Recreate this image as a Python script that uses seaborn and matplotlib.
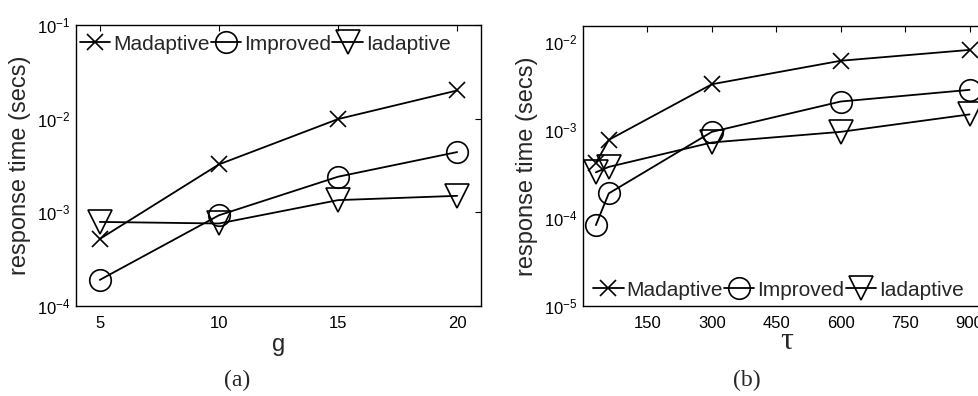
import matplotlib
matplotlib.use("Agg")
import matplotlib.pyplot as plt
import seaborn as sns
import pandas as pd
from matplotlib.lines import Line2D

# ---- data ---------------------------------------------------------------
series = ["Madaptive", "Improved", "Iadaptive"]

g_values = [5, 10, 15, 20]
g_madaptive = [5.2e-4, 3.25e-3, 9.9e-3, 2.0e-2]
g_improved = [1.9e-4, 9.3e-4, 2.4e-3, 4.4e-3]
g_iadaptive = [7.9e-4, 7.6e-4, 1.35e-3, 1.5e-3]

tau_values = [30, 60, 300, 600, 900]
tau_madaptive = [4.2e-4, 7.7e-4, 3.3e-3, 6.1e-3, 8.1e-3]
tau_improved = [8.3e-5, 1.9e-4, 9.5e-4, 2.1e-3, 2.85e-3]
tau_iadaptive = [3.3e-4, 3.8e-4, 7.2e-4, 9.5e-4, 1.5e-3]

g_ticks = [5, 10, 15, 20]
tau_ticks = [150, 300, 450, 600, 750, 900]

# ---- style --------------------------------------------------------------
sns.set_style("white")
plt.rcParams["font.family"] = ["Liberation Sans", "DejaVu Sans"]
plt.rcParams["mathtext.fontset"] = "custom"
plt.rcParams["mathtext.rm"] = "Liberation Sans"
plt.rcParams["mathtext.it"] = "Liberation Sans:italic"
plt.rcParams["mathtext.bf"] = "Liberation Sans:bold"

markers = {"Madaptive": "x", "Improved": "o", "Iadaptive": "v"}
msizes = {"Madaptive": 12, "Improved": 15.5, "Iadaptive": 17}


def long_frame(x, a, b, c):
    return pd.DataFrame({
        "x": list(x) * 3,
        "y": list(a) + list(b) + list(c),
        "method": [s for s in series for _ in x],
    })


df_g = long_frame(g_values, g_madaptive, g_improved, g_iadaptive)
df_tau = long_frame(tau_values, tau_madaptive, tau_improved, tau_iadaptive)

fig = plt.figure(figsize=(9.79, 3.96), dpi=100)
ax_a = fig.add_axes([76 / 979, 90 / 396, 405 / 979, 281 / 396])
ax_b = fig.add_axes([583 / 979, 90 / 396, 408 / 979, 280 / 396])


def draw(ax, df):
    for name in series:
        sub = df[df["method"] == name]
        sns.lineplot(data=sub, x="x", y="y", ax=ax, color="black",
                     marker=markers[name], markersize=msizes[name],
                     markerfacecolor="none", markeredgecolor="black",
                     markeredgewidth=1.2, linewidth=1.3, legend=False)
    ax.set_yscale("log")
    ax.minorticks_off()
    ax.tick_params(direction="in", length=4, width=0.8, top=True, right=True,
                   labelsize=12, colors="black", pad=7)
    ax.tick_params(axis="y", pad=4)
    for sp in ax.spines.values():
        sp.set_color("black")
        sp.set_linewidth(1.0)
    ax.set_ylabel("response time (secs)", fontsize=17, labelpad=4)


draw(ax_a, df_g)
ax_a.set_xlim(4, 21)
ax_a.set_ylim(1e-4, 1e-1)
ax_a.set_xticks(g_ticks)
ax_a.set_yticks([1e-4, 1e-3, 1e-2, 1e-1])
ax_a.minorticks_off()
ax_a.set_xlabel("g", fontsize=17, labelpad=2)

draw(ax_b, df_tau)
ax_b.set_xlim(0, 950)
ax_b.set_ylim(1e-5, 10 ** -1.82)
ax_b.set_xticks(tau_ticks)
ax_b.set_yticks([1e-5, 1e-4, 1e-3, 1e-2])
ax_b.minorticks_off()
ax_b.set_xlabel("τ", fontsize=23, family=["Liberation Serif", "DejaVu Serif"],
                labelpad=-3)


def legend_handles():
    return [Line2D([0], [0], color="black", linewidth=1.3,
                   marker=markers[n], markersize=msizes[n],
                   markerfacecolor="none", markeredgecolor="black",
                   markeredgewidth=1.2) for n in series]


leg_kw = dict(ncol=3, frameon=False, fontsize=15, handlelength=1.45,
              handletextpad=0.15, columnspacing=0.05, borderaxespad=0.0,
              borderpad=0.3)
ax_a.legend(legend_handles(), series, loc="upper left",
            bbox_to_anchor=(-0.005, 0.988), **leg_kw)
ax_b.legend(legend_handles(), series, loc="lower left",
            bbox_to_anchor=(0.01, 0.0), **leg_kw)

fig.text(237 / 979, 1 - 380 / 396, "(a)", ha="center", va="center",
         fontsize=17, family=["Liberation Serif", "DejaVu Serif"])
fig.text(747 / 979, 1 - 380 / 396, "(b)", ha="center", va="center",
         fontsize=17, family=["Liberation Serif", "DejaVu Serif"])

fig.savefig("out.png", dpi=100)
